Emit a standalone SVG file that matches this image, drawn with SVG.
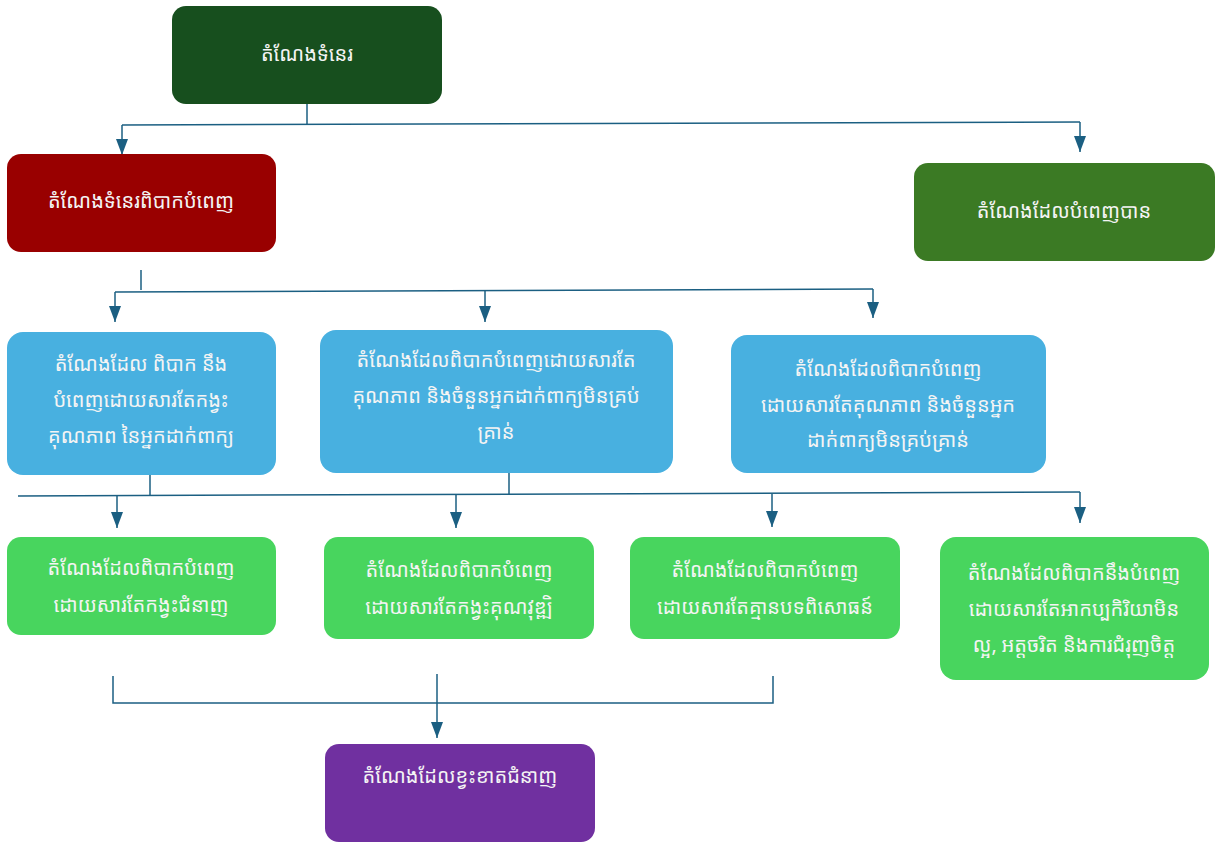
<svg xmlns="http://www.w3.org/2000/svg" width="1216" height="843" viewBox="0 0 1216 843">
<defs>
<marker id="ah" viewBox="0 0 16 12" refX="16" refY="6" markerWidth="16" markerHeight="12" markerUnits="userSpaceOnUse" orient="auto">
<path d="M0,0 L16,6 L0,12 Z" fill="#1b5f82"/>
</marker>
<style>
.t{font-family:"Noto Sans Khmer","Khmer OS","Noto Sans","DejaVu Sans",sans-serif;font-size:20px;fill:#f4f4f4;text-anchor:middle}
.c{fill:none;stroke:#1b5f82;stroke-width:1.5}
.a{fill:none;stroke:#1b5f82;stroke-width:1.5;marker-end:url(#ah)}
</style>
</defs>
<rect width="1216" height="843" fill="#ffffff"/>
<g id="connectors">
<path class="c" d="M307,104 V124"/>
<path class="c" d="M122,125 L1080,122"/>
<path class="a" d="M122,125 V155"/>
<path class="a" d="M1080,122 V152"/>
<path class="c" d="M141,270 V290"/>
<path class="c" d="M115,292 L873,289"/>
<path class="a" d="M115,292 V322"/>
<path class="a" d="M485,291 V322"/>
<path class="a" d="M873,289 V318"/>
<path class="c" d="M150,475 V495"/>
<path class="c" d="M509,465 V494"/>
<path class="c" d="M18,496 L1080,492"/>
<path class="a" d="M117,496 V528"/>
<path class="a" d="M456,495 V528"/>
<path class="a" d="M772,494 V527"/>
<path class="a" d="M1080,492 V523"/>
<path class="c" d="M113,676 V703 H773 V676"/>
<path class="c" d="M437,674 V703"/>
<path class="a" d="M437,703 V738"/>
</g>
<g id="n1"><rect x="172" y="6" width="270" height="98" rx="14" fill="#174f1e"/><text class="t" x="307" y="61">តំណែងទំនេរ</text></g>
<g id="n2"><rect x="7" y="154" width="269" height="98" rx="14" fill="#990000"/><text class="t" x="141" y="208">តំណែងទំនេរពិបាកបំពេញ</text></g>
<g id="n3"><rect x="914" y="163" width="301" height="98" rx="14" fill="#3b7a24"/><text class="t" x="1064" y="218">តំណែងដែលបំពេញបាន</text></g>
<g id="n4"><rect x="7" y="332" width="269" height="143" rx="16" fill="#48b0e0"/>
<text class="t" x="141" y="371">តំណែងដែល ពិបាក នឹង</text>
<text class="t" x="141" y="407">បំពេញដោយសារតែកង្វះ</text>
<text class="t" x="141" y="443">គុណភាព នៃអ្នកដាក់ពាក្យ</text></g>
<g id="n5"><rect x="320" y="330" width="353" height="143" rx="16" fill="#48b0e0"/>
<text class="t" x="496" y="367">តំណែងដែលពិបាកបំពេញដោយសារតែ</text>
<text class="t" x="496" y="403">គុណភាព និងចំនួនអ្នកដាក់ពាក្យមិនគ្រប់</text>
<text class="t" x="496" y="439">គ្រាន់</text></g>
<g id="n6"><rect x="731" y="335" width="315" height="138" rx="16" fill="#48b0e0"/>
<text class="t" x="888" y="376">តំណែងដែលពិបាកបំពេញ</text>
<text class="t" x="888" y="412">ដោយសារតែគុណភាព និងចំនួនអ្នក</text>
<text class="t" x="888" y="447">ដាក់ពាក្យមិនគ្រប់គ្រាន់</text></g>
<g id="n7"><rect x="7" y="537" width="269" height="98" rx="14" fill="#48d55e"/>
<text class="t" x="141" y="575">តំណែងដែលពិបាកបំពេញ</text>
<text class="t" x="141" y="612">ដោយសារតែកង្វះជំនាញ</text></g>
<g id="n8"><rect x="324" y="537" width="270" height="102" rx="14" fill="#48d55e"/>
<text class="t" x="459" y="577">តំណែងដែលពិបាកបំពេញ</text>
<text class="t" x="459" y="614">ដោយសារតែកង្វះគុណវុឌ្ឍិ</text></g>
<g id="n9"><rect x="630" y="537" width="270" height="102" rx="14" fill="#48d55e"/>
<text class="t" x="765" y="577">តំណែងដែលពិបាកបំពេញ</text>
<text class="t" x="765" y="614">ដោយសារតែគ្មានបទពិសោធន៍</text></g>
<g id="n10"><rect x="940" y="537" width="269" height="143" rx="16" fill="#48d55e"/>
<text class="t" x="1074" y="580">តំណែងដែលពិបាកនឹងបំពេញ</text>
<text class="t" x="1074" y="616">ដោយសារតែអាកប្បកិរិយាមិន</text>
<text class="t" x="1074" y="652">ល្អ, អត្តចរិត និងការជំរុញចិត្ត</text></g>
<g id="n11"><rect x="325" y="744" width="270" height="98" rx="14" fill="#7030a0"/><text class="t" x="460" y="783">តំណែងដែលខ្វះខាតជំនាញ</text></g>
</svg>
